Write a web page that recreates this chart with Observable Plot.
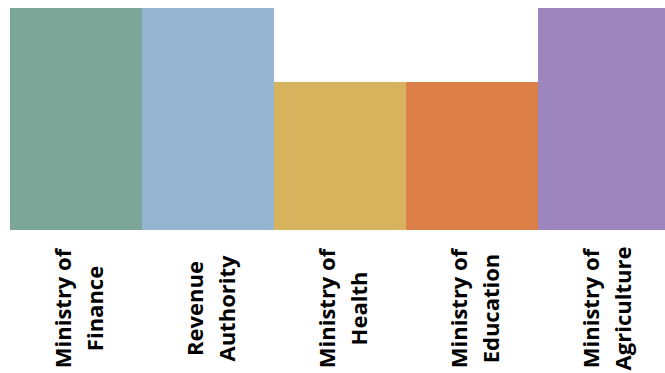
<!DOCTYPE html>
<html><head><meta charset="utf-8">
<script src="https://cdn.jsdelivr.net/npm/d3@7"></script>
<script src="https://cdn.jsdelivr.net/npm/@observablehq/plot@0.6"></script>
<style>body{margin:0;background:#fff}</style>
</head><body><div id="chart"></div>
<script>
const categories = ["Ministry of Finance", "Revenue Authority", "Ministry of Health", "Ministry of Education", "Ministry of Agriculture"];
const labels = ["Ministry of\nFinance", "Revenue\nAuthority", "Ministry of\nHealth", "Ministry of\nEducation", "Ministry of\nAgriculture"];
const values = [3, 3, 2, 2, 3];
const colors = ["#7ba698", "#95b5d3", "#d7b35d", "#dc8047", "#9d85be"];

const data = categories.map((c, i) => ({category: c, label: labels[i], value: values[i]}));

const chart = Plot.plot({
  width: 665,
  height: 373,
  marginTop: 8,
  marginBottom: 143,
  marginLeft: 9,
  marginRight: 0,
  x: {domain: categories, range: [9, 671], padding: 0, axis: null},
  y: {domain: [0, 3], axis: null},
  color: {domain: categories, range: colors},
  marks: [
    Plot.barY(data, {x: "category", y: "value", fill: "category", inset: 0}),
    Plot.text(data, {
      x: "category", text: "label", frameAnchor: "bottom", dy: 78,
      rotate: -90, textAnchor: "middle", lineAnchor: "middle", lineHeight: 1.45,
      fontSize: 22, fontWeight: "bold", fontFamily: "Open Sans", fill: "#000"
    })
  ]
});
document.getElementById("chart").append(chart);
</script>
</body></html>
